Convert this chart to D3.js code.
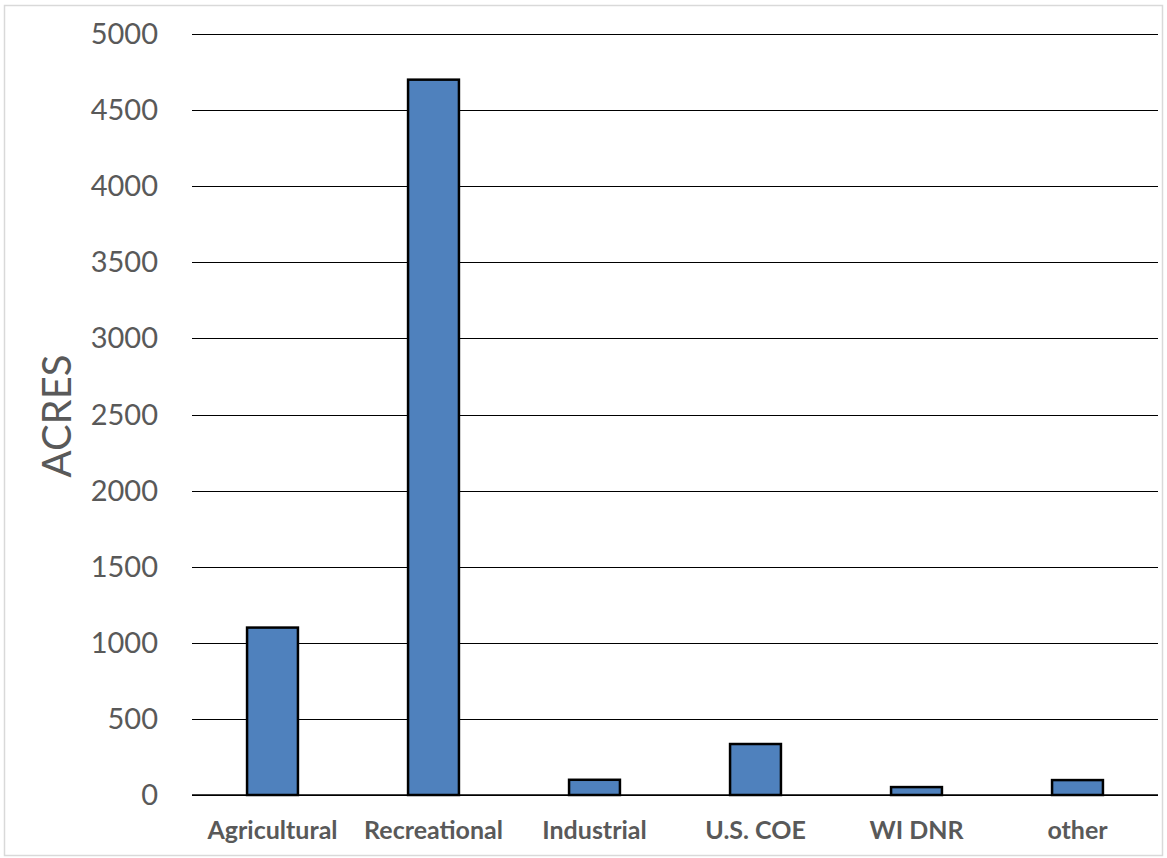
<!DOCTYPE html>
<html><head><meta charset="utf-8">
<script src="https://cdn.jsdelivr.net/npm/d3@7"></script>
<style>body{margin:0;background:#fff;} svg{display:block;}</style>
</head><body>
<script>
const categories = ["Agricultural","Recreational","Industrial","U.S. COE","WI DNR","other"];
const acres = [1100, 4700, 100, 335, 52, 98];
const yTicks = [0,500,1000,1500,2000,2500,3000,3500,4000,4500,5000];
const yLabel = "ACRES";

const W = 1167, H = 858;
const m = {left:192, right:W-1158, top:34, bottom:H-795};
const svg = d3.select("body").append("svg").attr("width",W).attr("height",H);
svg.append("rect").attr("x",4.5).attr("y",5.5).attr("width",W-9).attr("height",H-8)
  .attr("fill","#fff").attr("stroke","#d9d9d9").attr("stroke-width",1.5);

const x = d3.scaleBand().domain(categories).range([m.left, W-m.right]).paddingInner(0.684).paddingOuter(0.342);
const y = d3.scaleLinear().domain([0,5000]).range([H-m.bottom, m.top]);

const font = "Lato, 'Open Sans', sans-serif";
const ga = svg.append("g").attr("transform",`translate(${m.left},0)`)
  .call(d3.axisLeft(y).tickValues(yTicks).tickSize(-(W-m.left-m.right)).tickFormat(d=>d).tickPadding(34));
ga.select(".domain").remove();
ga.selectAll(".tick").attr("transform",d=>`translate(0,${Math.round(y(d))+0.5})`);
ga.selectAll(".tick line").attr("stroke","#000").attr("stroke-width",1);
ga.selectAll(".tick text").attr("fill","#595959").style("font-family",font).style("font-size","29px");

svg.append("g").selectAll("rect").data(categories).join("rect")
  .attr("x",d=>x(d)).attr("width",x.bandwidth())
  .attr("y",(d,i)=>y(acres[i])).attr("height",(d,i)=>y(0)-y(acres[i]))
  .attr("fill","#4f81bd").attr("stroke","#000").attr("stroke-width",2.5);

const xa = svg.append("g").attr("transform",`translate(0,${y(0)})`)
  .call(d3.axisBottom(x).tickSize(0).tickPadding(26));
xa.select(".domain").attr("stroke","#000").attr("stroke-width",1.5).attr("d",`M${m.left},0H${W-m.right}`);
xa.selectAll(".tick text").attr("fill","#595959").style("font-family",font).style("font-size","25px").style("font-weight","bold");

svg.append("text").attr("transform",`translate(${56},${416}) rotate(-90)`)
  .attr("text-anchor","middle").attr("dominant-baseline","central")
  .attr("fill","#595959").style("font-family",font).style("font-size","40px").text(yLabel);
</script>
</body></html>
